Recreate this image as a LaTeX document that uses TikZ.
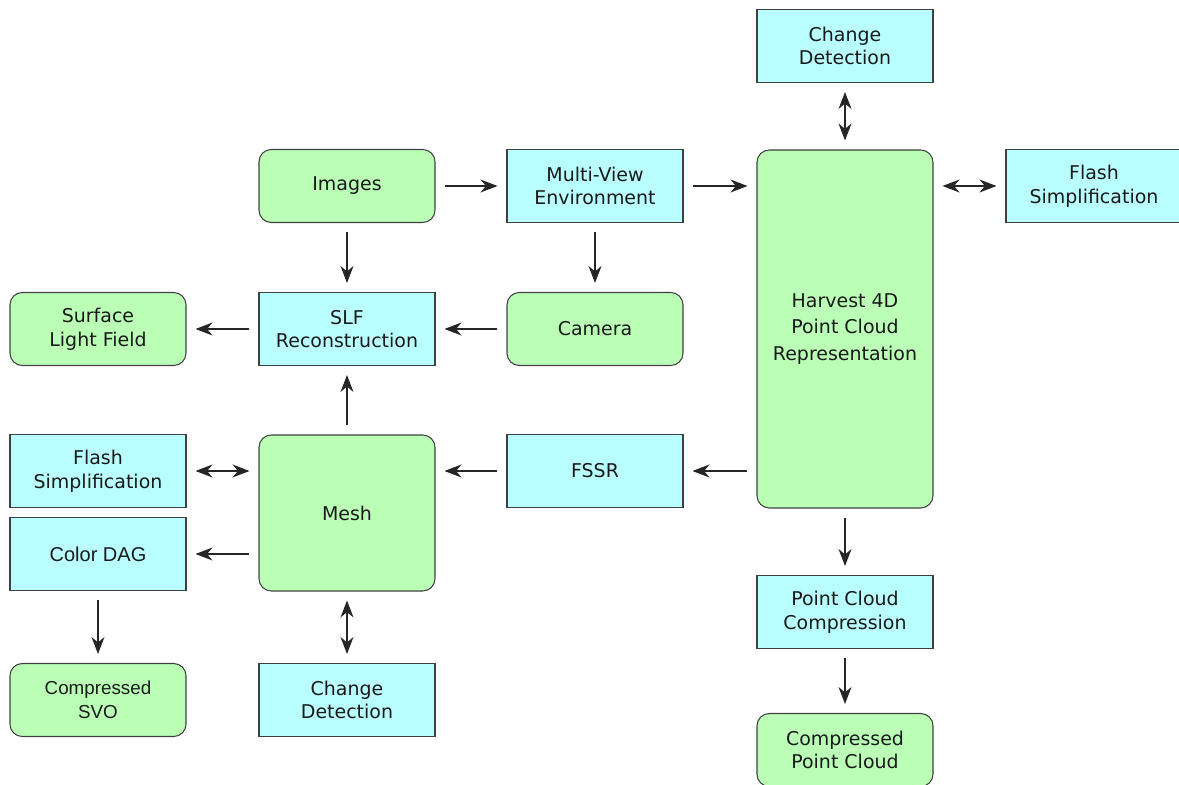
\documentclass[tikz,border=0pt]{standalone}
\usepackage{fontspec}
\setmainfont{DejaVu Sans}
\newfontfamily\arialfont{Liberation Sans}
\usetikzlibrary{arrows.meta}
\definecolor{boxgreen}{RGB}{187,255,183}
\definecolor{boxcyan}{RGB}{186,255,255}

\begin{document}
\begin{tikzpicture}[x=0.2mm,y=-0.2mm,
  box/.style={draw=black!75,line width=0.6pt,align=center,inner sep=0pt,
    minimum width=3.52cm,minimum height=1.46cm,text=black!90,
    font=\fontsize{10.8}{13.5}\selectfont},
  gbox/.style={box,fill=boxgreen,rounded corners=7pt},
  cbox/.style={box,fill=boxcyan},
  fwd/.style={-{Stealth[length=3.4mm,width=2.6mm,inset=1.1mm]}},
  dbl/.style={{Stealth[length=3.4mm,width=2.6mm,inset=1.1mm]}-{Stealth[length=3.4mm,width=2.6mm,inset=1.1mm]}}]
 \useasboundingbox (0,0) rectangle (1179,785);
 % rounded green boxes
 \node[gbox] (imgs) at (347,186) {Images};
 \node[gbox] (camera) at (595,329) {Camera};
 \node[gbox] (surf) at (98,329) {Surface\\Light Field};
 \node[gbox] (cpc) at (845,750) {Compressed\\Point Cloud};
 \node[gbox,minimum height=3.12cm] (mesh) at (347,513) {Mesh};
 \node[gbox,minimum height=7.16cm,font=\fontsize{10.8}{15}\selectfont] (harvest) at (845,329)
   {Harvest 4D\\Point Cloud\\Representation};
 \node[gbox,font=\arialfont\fontsize{10.7}{13.5}\selectfont] (svo) at (98,700) {Compressed\\SVO};
 % plain cyan boxes
 \node[cbox] (cdtop) at (845,46) {Change\\Detection};
 \node[cbox] (mve) at (595,186) {Multi-View\\Environment};
 \node[cbox] (flashr) at (1094,186) {Flash\\Simplification};
 \node[cbox] (slf) at (347,329) {SLF\\Reconstruction};
 \node[cbox] (flashl) at (98,471) {Flash\\Simplification};
 \node[cbox] (fssr) at (595,471) {FSSR};
 \node[cbox] (cdbot) at (347,700) {Change\\Detection};
 \node[cbox] (pcc) at (845,612) {Point Cloud\\Compression};
 \node[cbox,font=\arialfont\fontsize{11.4}{13.5}\selectfont] (dag) at (98,554) {Color DAG};
 % connectors
 \foreach \src/\dst/\tip in {imgs/mve/fwd, mve/mve -| harvest.west/fwd, harvest.east |- flashr/flashr/dbl, harvest/cdtop/dbl, imgs/slf/fwd, mve/camera/fwd, camera/slf/fwd, slf/surf/fwd, mesh/slf/fwd, harvest.west |- fssr/fssr/fwd, fssr/fssr -| mesh.east/fwd, mesh.west |- flashl/flashl/dbl, mesh.west |- dag/dag/fwd, dag/svo/fwd, mesh/cdbot/dbl, harvest/pcc/fwd, pcc/cpc/fwd}
   \draw[\tip,line width=0.6pt,black!85,shorten <=0.18cm,shorten >=0.18cm] (\src) -- (\dst);
\end{tikzpicture}
\end{document}
